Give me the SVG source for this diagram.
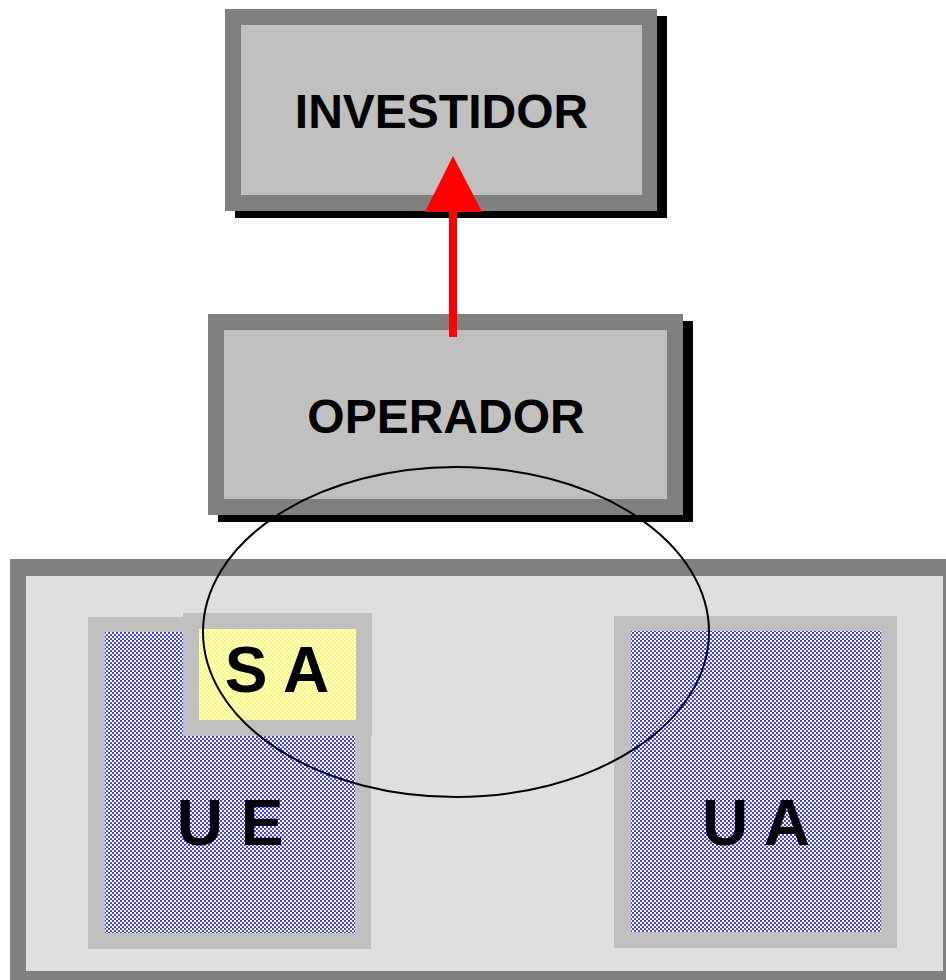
<svg xmlns="http://www.w3.org/2000/svg" width="946" height="980" viewBox="0 0 946 980">
<defs>
<pattern id="blueDots" width="4" height="4" patternUnits="userSpaceOnUse">
<rect width="4" height="4" fill="#ffffff"/>
<circle cx="1" cy="1" r="1.1" fill="#2a2aff"/>
<circle cx="3" cy="3" r="1.1" fill="#2a2aff"/>
</pattern>
<pattern id="yellowDots" width="4" height="4" patternUnits="userSpaceOnUse">
<rect width="4" height="4" fill="#ffffff"/>
<circle cx="1" cy="1" r="1.1" fill="#ffff30"/>
<circle cx="3" cy="3" r="1.1" fill="#ffff30"/>
</pattern>
</defs>
<style>
.shadow{fill:#000000}
.boxOuter{fill:#808080}
.boxInner{fill:#c0c0c0}
.unitBorder{fill:#c0c0c0}
.big{font-family:"Liberation Sans",Arial,sans-serif;font-weight:bold;font-size:48px;fill:#000;text-anchor:middle}
.unit{font-family:"Liberation Sans",Arial,sans-serif;font-weight:bold;font-size:64px;fill:#000;text-anchor:middle}
</style>
<rect width="946" height="980" fill="#ffffff"/>

<g id="container">
<rect x="10" y="559" width="950" height="430" fill="#808080"/>
<rect x="26" y="576" width="917" height="395" fill="#dfdfdf"/>
</g>

<g id="ue">
<rect class="unitBorder" x="88" y="617" width="283" height="332"/>
<rect x="105" y="632" width="250" height="301" fill="url(#blueDots)"/>
<text class="unit" x="230" y="845">U E</text>
</g>

<g id="sa">
<rect class="unitBorder" x="183" y="613" width="189" height="123"/>
<rect x="199" y="629" width="157" height="91" fill="url(#yellowDots)"/>
<text class="unit" x="277" y="692">S A</text>
</g>

<g id="ua">
<rect class="unitBorder" x="614" y="616" width="283" height="332"/>
<rect x="631" y="631" width="250" height="301" fill="url(#blueDots)"/>
<text class="unit" x="756" y="845">U A</text>
</g>

<g id="investidor">
<rect class="shadow" x="235" y="16" width="432" height="202"/>
<rect class="boxOuter" x="225" y="9" width="432" height="202"/>
<rect class="boxInner" x="241" y="25" width="401" height="170"/>
<text class="big" x="441.5" y="128">INVESTIDOR</text>
</g>

<g id="operador">
<rect class="shadow" x="218" y="321" width="475" height="201"/>
<rect class="boxOuter" x="208" y="314" width="475" height="201"/>
<rect class="boxInner" x="224" y="330" width="443" height="169"/>
<text class="big" x="446" y="433">OPERADOR</text>
</g>

<g id="connectors">
<rect x="449" y="210" width="8" height="127" fill="#ff0000"/>
<polygon points="453,156 482,212 425,212" fill="#ff0000"/>
<ellipse cx="456" cy="632" rx="253" ry="165" fill="none" stroke="#000000" stroke-width="2"/>
</g>
</svg>
